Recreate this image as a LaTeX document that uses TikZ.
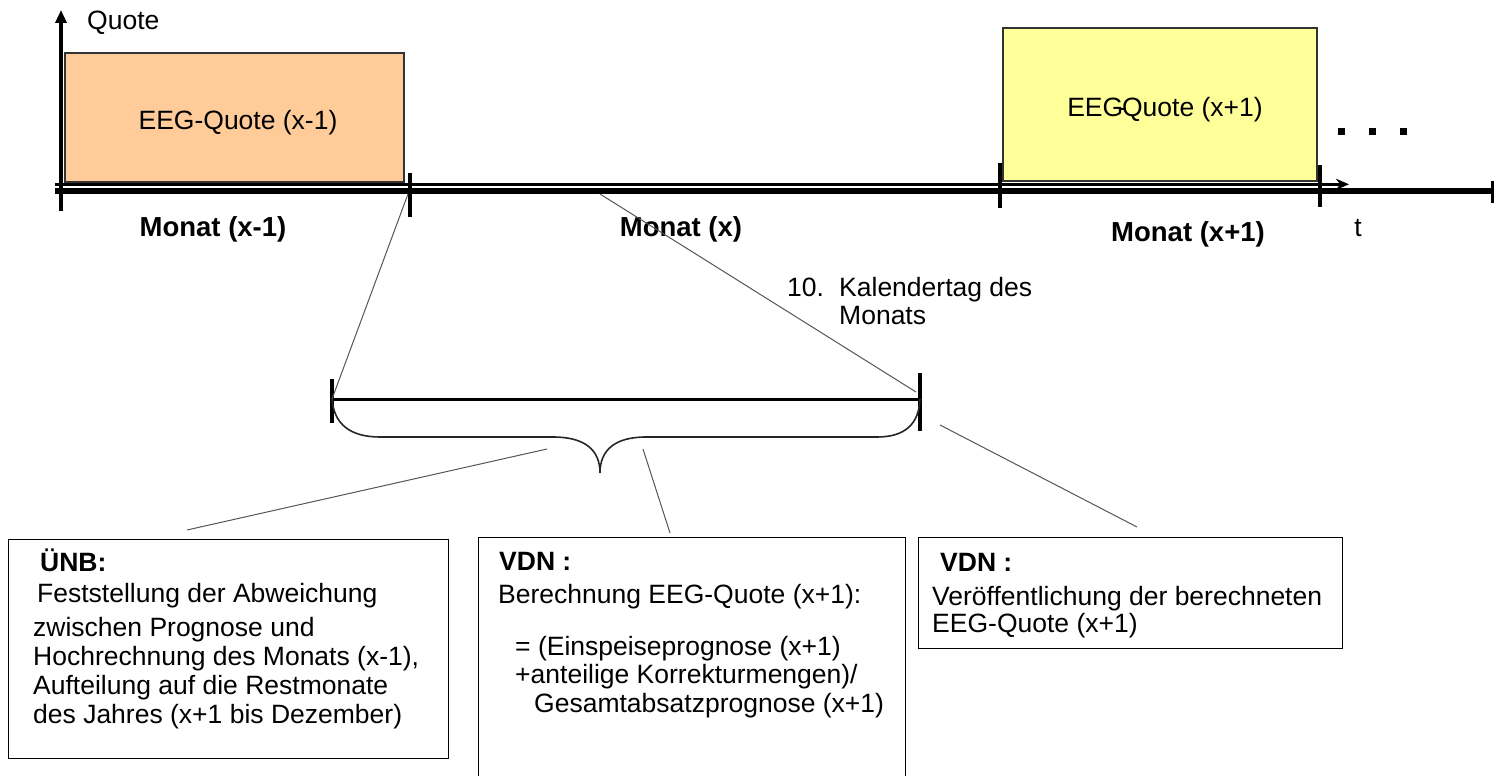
\documentclass[tikz,border=0pt]{standalone}
\usepackage{fontspec}
\setmainfont{Liberation Sans}
\usetikzlibrary{arrows.meta}
\definecolor{peach}{HTML}{FFCC99}
\definecolor{lightyellow}{HTML}{FFFF99}
\definecolor{linegrey}{HTML}{555555}
\begin{document}
\begin{tikzpicture}[x=1pt,y=-1pt,
  txt/.style={inner sep=0pt, anchor=base west, font=\fontsize{26.5}{29}\selectfont},
  btxt/.style={inner sep=0pt, anchor=base west, font=\fontsize{26.5}{29}\selectfont\bfseries},
  ctxt/.style={inner sep=0pt, anchor=base, font=\fontsize{26.5}{29}\selectfont},
  cbtxt/.style={inner sep=0pt, anchor=base, font=\fontsize{27.5}{29}\selectfont\bfseries},
  tick/.style={line width=3.2pt},
  thin/.style={draw=linegrey, line width=1pt},
  infobox/.style={draw=black, line width=1.2pt},
  quotebox/.style={draw=black!80, line width=1.5pt},
  dot/.style={fill=black}]
\useasboundingbox (0,0) rectangle (1494,776);
\clip (0,0) rectangle (1494,776);

% quote boxes
\draw[quotebox, fill=peach] (65,53) rectangle (404,182);
\draw[quotebox, fill=lightyellow] (1003,28) rectangle (1317,181);
\node[ctxt] (q1) at (238,129) {EEG-Quote (x-1)};
\node[ctxt] (q2) at (1165,117) {EEG\kern-5pt-\kern-5pt Quote (x+1)};

% axes
\coordinate (ytop) at (61,10);
\coordinate (ybot) at (61,211);
\draw[line width=3.2pt, -{Triangle[length=13pt,width=11pt]}] (ybot) -- (ytop);
\coordinate (ax0) at (55,190.5);
\coordinate (ax1) at (1494,190.5);
\draw[line width=6pt] (ax0) -- (ax1);
\coordinate (ar0) at (55,184.3);
\coordinate (ar1) at (1349,184.3);
\draw[line width=3pt, -{Stealth[length=13pt,width=11pt]}] (ar0) -- (ar1);
\node[txt] (quote) at (87,30) {Quote};

% ticks on time axis
\coordinate (t1) at (410,173);
\coordinate (t1b) at (410,217);
\coordinate (t2) at (1000,163);
\coordinate (t2b) at (1000,208);
\coordinate (t3) at (1320,165);
\coordinate (t3b) at (1320,207);
\coordinate (t4) at (1493,181);
\coordinate (t4b) at (1493,203);
\draw[tick] (t1) -- (t1b);
\draw[tick] (t2) -- (t2b);
\draw[tick] (t3) -- (t3b);
\draw[tick] (t4) -- (t4b);

% dots
\fill[dot] (1337.5,127.5) rectangle (1344.5,134.5);
\fill[dot] (1368.5,127.5) rectangle (1375.5,134.5);
\fill[dot] (1399.5,127.5) rectangle (1406.5,134.5);

% month labels
\node[cbtxt] (m1) at (213,236) {Monat (x-1)};
\node[cbtxt] (m2) at (681,236) {Monat (x)};
\node[cbtxt] (m3) at (1188,241) {Monat (x+1)};
\node[ctxt] (tl) at (1358,236) {t};

% day 10 label
\node[txt] (d10) at (787,296) {10.};
\node[txt] (kal1) at (839,296) {Kalendertag des};
\node[txt] (kal2) at (839,324) {Monats};

% zoomed bracket
\coordinate (bl) at (332,399);
\coordinate (br) at (920,399);
\draw[line width=3pt] (330,399) -- (br);
\coordinate (blt) at (332,379);
\coordinate (blb) at (332,423);
\coordinate (brt) at (920,373);
\coordinate (brb) at (920,431);
\draw[tick] (blt) -- (blb);
\draw[tick] (brt) -- (brb);

% zoom lines
\coordinate (z1) at (408,194);
\coordinate (z2) at (600,194);
\coordinate (z2e) at (916,392);
\draw[thin] (z1) -- (bl);
\draw[thin] (z2) -- (z2e);

% brace
\draw[draw=black!85, line width=1.6pt]
  (bl) .. controls (334,424) and (350,437) .. (380,437) -- (553,437)
  .. controls (585,437) and (600,450) .. (600,473)
  .. controls (600,450) and (615,437) .. (646,437) -- (877,437)
  .. controls (905,437) and (919,424) .. (br);

% boxes
\node[infobox, minimum width=440pt, minimum height=219pt, anchor=north west, inner sep=0pt] (unb) at (8,539) {};
\node[infobox, minimum width=427pt, minimum height=260pt, anchor=north west, inner sep=0pt] (vdn1) at (478,537) {};
\node[infobox, minimum width=424pt, minimum height=111pt, anchor=north west, inner sep=0pt] (vdn2) at (918,537) {};

% connectors brace -> boxes
\coordinate (c1s) at (547,449);
\coordinate (c1e) at (187,530);
\coordinate (c2s) at (643,449);
\coordinate (c2e) at (670,533);
\coordinate (c3s) at (940,425);
\coordinate (c3e) at (1137,527);
\draw[thin] (c1s) -- (c1e);
\draw[thin] (c2s) -- (c2e);
\draw[thin] (c3s) -- (c3e);

% ÜNB text
\node[btxt] (u0) at (40,571) {ÜNB:};
\node[txt] (u1) at (37,602) {Feststellung der Abweichung};
\node[txt] (u2) at (33,636) {zwischen Prognose und};
\node[txt] (u3) at (33,665) {Hochrechnung des Monats (x-1),};
\node[txt] (u4) at (33,694) {Aufteilung auf die Restmonate};
\node[txt] (u5) at (33,723) {des Jahres (x+1 bis Dezember)};

% VDN middle text
\node[btxt] (v0) at (499,570) {VDN :};
\node[txt] (v1) at (498,603) {Berechnung EEG-Quote (x+1):};
\node[txt] (v2) at (515,655) {= (Einspeiseprognose (x+1)};
\node[txt] (v3) at (515,683) {+anteilige Korrekturmengen)/};
\node[txt] (v4) at (534,712) {Gesamtabsatzprognose (x+1)};

% VDN right text
\node[btxt] (w0) at (940,571) {VDN :};
\node[txt] (w1) at (932,605) {Veröffentlichung der berechneten};
\node[txt] (w2) at (932,632) {EEG-Quote (x+1)};
\end{tikzpicture}
\end{document}
